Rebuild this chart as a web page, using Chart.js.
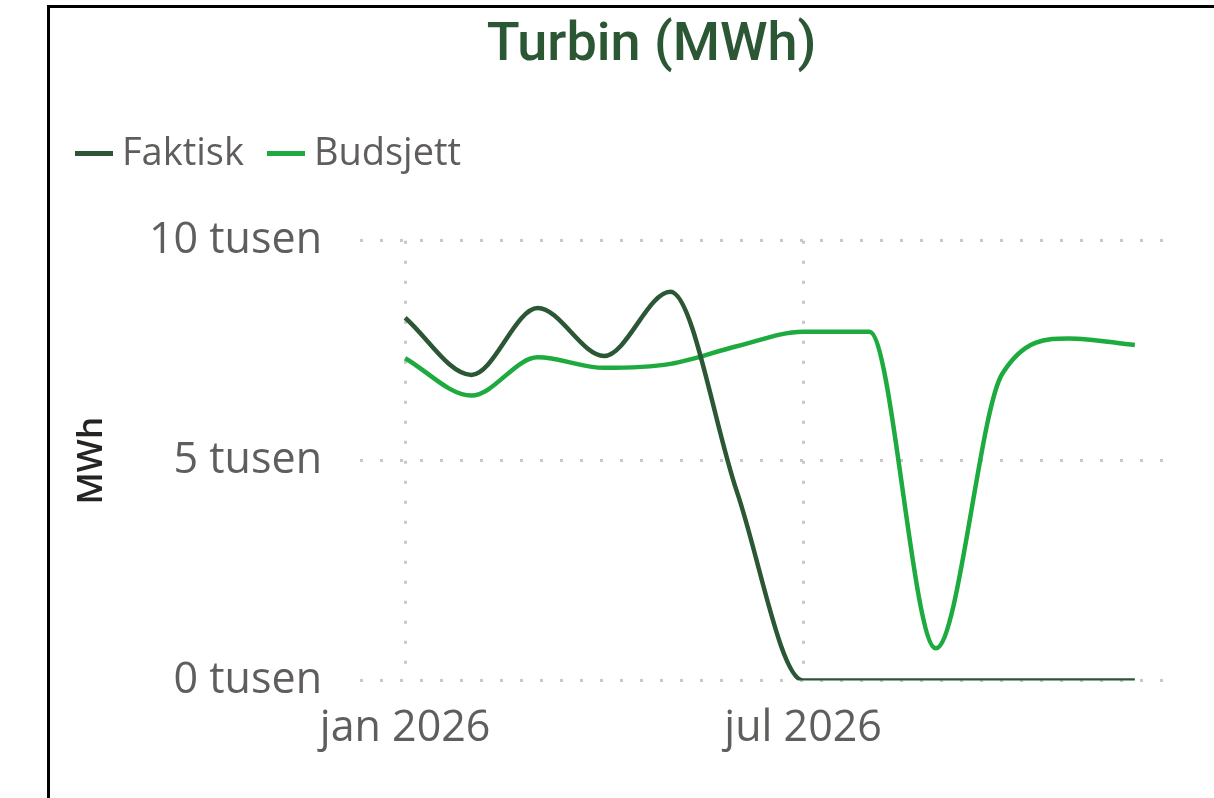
<!DOCTYPE html>
<html>
<head>
<meta charset="utf-8">
<script src="https://cdn.jsdelivr.net/npm/chart.js@4.4.1/dist/chart.umd.min.js"></script>
<style>
  html, body { margin: 0; padding: 0; background: #fff; overflow: hidden; }
  #frame { position: absolute; left: 47px; top: 5px; width: 1200px; height: 820px;
           border-left: 3px solid #000; border-top: 3px solid #000; background: #fff; }
  #c { position: absolute; left: 0; top: 0; }
</style>
</head>
<body>
<div id="frame"><canvas id="c" width="1164" height="790"></canvas></div>
<script>
const months = ['jan 2026','feb 2026','mar 2026','apr 2026','mai 2026','jun 2026',
                'jul 2026','aug 2026','sep 2026','okt 2026','nov 2026','des 2026'];
const faktisk  = [8250, 6950, 8470, 7380, 8840, 4300, 0, 0, 0, 0, 0, 0];
const budsjett = [7330, 6480, 7350, 7110, 7200, 7600, 7930, 7930, 730, 6970, 7780, 7630];
const xTickIndices = [0, 6];
const yTicks = [0, 5000, 10000];

const toPoints = arr => arr.map((v, i) => ({ x: i, y: v }));

function makeMarker(color) {
  const c = document.createElement('canvas');
  c.width = 38; c.height = 5;
  const g = c.getContext('2d');
  g.fillStyle = color; g.fillRect(0, 0, 38, 5);
  return c;
}

const legendSpacing = {
  id: 'legendSpacing',
  beforeInit(chart) {
    const origFit = chart.legend.fit;
    chart.legend.fit = function () {
      origFit.bind(chart.legend)();
      this.height += 58;
    };
  },
  afterLayout(chart) {
    chart.legend.left -= 13;
    chart.titleBlock.left += 35;
    chart.titleBlock.right += 35;
  }
};

new Chart(document.getElementById('c'), {
  type: 'line',
  data: {
    datasets: [
      { label: 'Faktisk', data: toPoints(faktisk), borderColor: '#2B5734', backgroundColor: '#2B5734',
        borderWidth: 4.5, pointRadius: 0, cubicInterpolationMode: 'monotone' },
      { label: 'Budsjett', data: toPoints(budsjett), borderColor: '#1DAA3E', backgroundColor: '#1DAA3E',
        borderWidth: 4.5, pointRadius: 0, cubicInterpolationMode: 'monotone' }
    ]
  },
  options: {
    responsive: false,
    animation: false,
    layout: { padding: { left: 15, right: 46, top: 0, bottom: 20 } },
    plugins: {
      tooltip: { enabled: false },
      title: {
        display: true, text: 'Turbin (MWh)', color: '#2B5734',
        font: { family: 'Roboto', size: 54, weight: '500' },
        padding: { top: 6, bottom: 23 }
      },
      legend: {
        display: true, position: 'top', align: 'start',
        labels: {
          usePointStyle: true, pointStyleWidth: 18, boxHeight: 5, boxWidth: 18,
          color: '#605E5C',
          font: { family: 'Open Sans', size: 38 }, padding: 33,
          generateLabels(chart) {
            return chart.data.datasets.map((d, i) => ({
              text: d.label, fillStyle: d.borderColor, strokeStyle: d.borderColor,
              lineWidth: 0, datasetIndex: i, fontColor: '#605E5C',
              pointStyle: makeMarker(d.borderColor)
            }));
          }
        }
      }
    },
    scales: {
      x: {
        type: 'linear', min: -0.68, max: 11.5,
        afterBuildTicks(scale) { scale.ticks = xTickIndices.map(v => ({ value: v })); },
        ticks: {
          color: '#605E5C', font: { family: 'Open Sans', size: 43 }, padding: 23,
          maxRotation: 0, autoSkip: false,
          callback: v => months[v]
        },
        grid: { color: '#C8C8C8', lineWidth: 3, drawTicks: false },
        border: { display: false, dash: [3, 17] }
      },
      y: {
        min: 0, max: 10000,
        afterBuildTicks(scale) { scale.ticks = yTicks.map(v => ({ value: v })); },
        afterFit(scale) { scale.width = 295; },
        ticks: {
          color: '#605E5C', font: { family: 'Open Sans', size: 43 }, padding: 38,
          callback: v => (v / 1000) + ' tusen'
        },
        grid: { color: '#C8C8C8', lineWidth: 3, drawTicks: false },
        border: { display: false, dash: [3, 17] },
        title: {
          display: true, text: 'MWh', color: '#252423',
          font: { family: 'Open Sans', size: 35, weight: '600' },
          padding: { top: 6, bottom: 0 }
        }
      }
    }
  },
  plugins: [legendSpacing]
});
</script>
</body>
</html>
